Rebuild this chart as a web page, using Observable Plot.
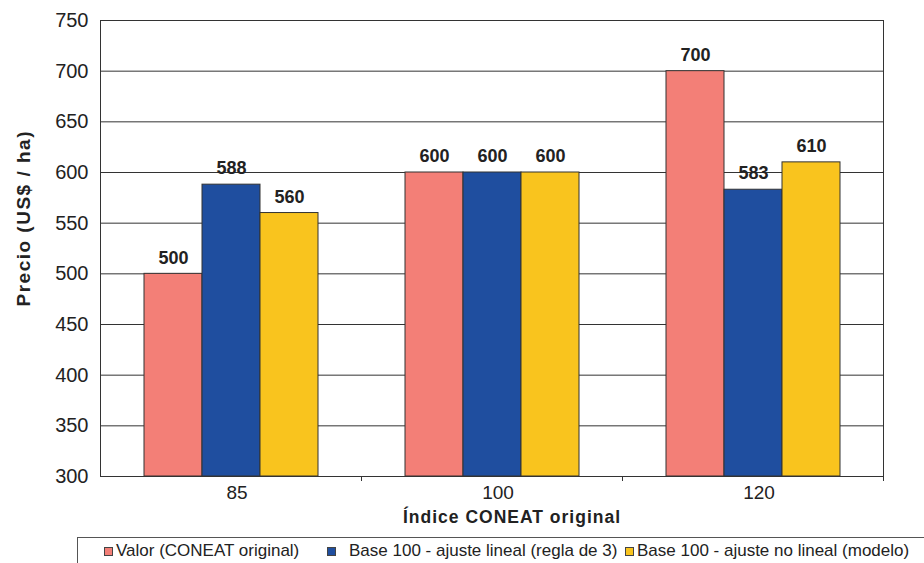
<!DOCTYPE html>
<html>
<head>
<meta charset="utf-8">
<script src="https://cdn.jsdelivr.net/npm/d3@7"></script>
<script src="https://cdn.jsdelivr.net/npm/@observablehq/plot@0.6"></script>
<style>
  html, body { margin: 0; padding: 0; background: #fff; }
  body { width: 924px; height: 563px; overflow: hidden; font-family: "Liberation Sans", Arial, sans-serif; }
  #chart svg { display: block; }
  .legend { position: relative; margin-left: 77px; height: 26px; border-top: 1px solid #555; border-left: 1px solid #555; color: #222; font-size: 17px; }
  .legend .item { position: absolute; top: 3px; display: flex; align-items: center; white-space: nowrap; }
  .legend .sw { width: 7px; height: 7px; border: 1px solid #444; display: inline-block; }
</style>
</head>
<body>
<div id="chart"></div>
<script>
// Precio por hectárea según índice CONEAT y tipo de ajuste
const categories = ["85", "100", "120"];
const series = [
  "Valor (CONEAT original)",
  "Base 100 - ajuste lineal (regla de 3)",
  "Base 100 - ajuste no lineal (modelo)"
];
const valor = [500, 600, 700];
const ajusteLineal = [588, 600, 583];
const ajusteNoLineal = [560, 600, 610];
const yTicks = [300, 350, 400, 450, 500, 550, 600, 650, 700, 750];
const colors = ["#f37f77", "#1f4e9f", "#f9c41e"];
const yTitle = "Precio (US$ / ha)";
const xTitle = "Índice CONEAT original";

const seriesValues = [valor, ajusteLineal, ajusteNoLineal];
const rows = [];
categories.forEach((c, i) => {
  series.forEach((s, j) => rows.push({indice: c, serie: s, valor: seriesValues[j][i]}));
});

const W = 924, H = 537;
const mL = 100, mR = 41, mT = 20, mB = 61;
const facetHalf = (W - mL - mR) / categories.length / 2;
const yMin = yTicks[0];

const chart = Plot.plot({
  width: W,
  height: H,
  marginLeft: mL,
  marginRight: mR,
  marginTop: mT,
  marginBottom: mB,
  style: {fontFamily: "'Liberation Sans', Arial, sans-serif", color: "#222", background: "#fff"},
  fx: {domain: categories, padding: 0},
  x: {domain: series, paddingInner: 0, paddingOuter: 0.75, axis: null},
  y: {domain: [yTicks[0], yTicks[yTicks.length - 1]]},
  color: {domain: series, range: colors},
  marks: [
    Plot.gridY(yTicks, {stroke: "#333", strokeOpacity: 1, strokeWidth: 1}),
    Plot.barY(rows, {fx: "indice", x: "serie", y1: yMin, y2: "valor", fill: "serie", stroke: "#333", strokeWidth: 1}),
    Plot.text(rows, {fx: "indice", x: "serie", y: "valor", text: d => String(d.valor), dy: -16, fontSize: 18, fontWeight: "bold", fill: "#222"}),
    Plot.frame({facet: "super", stroke: "#333"}),
    Plot.axisY(yTicks, {tickSize: 0, tickPadding: 12, fontSize: 20, label: null}),
    Plot.axisFx({anchor: "bottom", tickSize: 0, tickPadding: 9, fontSize: 19, label: null, dx: 6}),
    Plot.axisFx({anchor: "bottom", tickSize: 5, tickFormat: () => "", label: null, dx: facetHalf, stroke: "#333"}),
    Plot.text([yTitle], {facet: "super", frameAnchor: "left", rotate: -90, dx: -77, dy: 58, fontSize: 19, fontWeight: "bold", fill: "#222"}),
    Plot.text([xTitle], {facet: "super", frameAnchor: "bottom", dx: 20, dy: 46, fontSize: 17.5, fontWeight: "bold", fill: "#222"})
  ]
});
document.getElementById("chart").appendChild(chart);

// Espaciado de letras de los títulos de ejes
d3.select(chart).selectAll("text")
  .filter(function() { return this.textContent === yTitle; })
  .style("letter-spacing", "1.5px");
d3.select(chart).selectAll("text")
  .filter(function() { return this.textContent === xTitle; })
  .style("letter-spacing", "1px");

// Leyenda bajo el gráfico
const legend = document.createElement("div");
legend.className = "legend";
const legendLeft = [26, 249, 547];
const legendGap = [3, 13, 3];
series.forEach((s, j) => {
  const item = document.createElement("div");
  item.className = "item";
  item.style.left = legendLeft[j] + "px";
  const sw = document.createElement("span");
  sw.className = "sw";
  sw.style.background = colors[j];
  sw.style.marginRight = legendGap[j] + "px";
  const label = document.createElement("span");
  label.textContent = s;
  item.appendChild(sw);
  item.appendChild(label);
  legend.appendChild(item);
});
document.body.appendChild(legend);
</script>
</body>
</html>
